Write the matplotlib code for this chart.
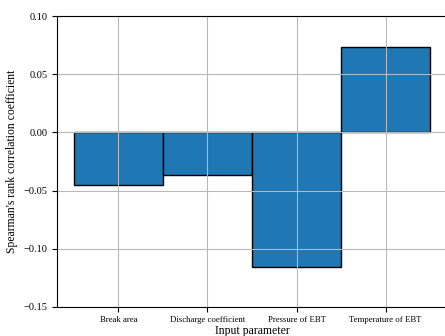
import numpy as np
import matplotlib
matplotlib.use("Agg")
from matplotlib import pyplot as plt

params = ["Break area", "Discharge coefficient", "Pressure of EBT", "Temperature of EBT"]
rho = [-0.045, -0.037, -0.116, 0.073]
yticks = [-0.15, -0.10, -0.05, 0.00, 0.05, 0.10]

plt.rcParams['font.family'] = ['Liberation Serif', 'DejaVu Serif']

fig = plt.figure(figsize=(4.45, 3.36), dpi=100)
ax = fig.add_axes([57/445, 29/336, 390/445, 291/336])

x = np.arange(len(params))
ax.bar(x, rho, width=1.0, color='#1f77b4', edgecolor='black', linewidth=1.0)
ax.set_axisbelow(False)
ax.grid(True, color='#b8b8b8', linewidth=0.8)

ax.set_xlim(-0.69, 3.69)
ax.set_ylim(-0.15, 0.10)
ax.set_yticks(yticks)
ax.set_yticklabels([f"{v:.2f}".replace("-", "\u2212") for v in yticks], fontsize=7.5)
ax.set_xticks(x)
ax.set_xticklabels(params, fontsize=6.3)
ax.set_xlabel("Input parameter", fontsize=8.5, labelpad=1)
ax.set_ylabel("Spearman's rank correlation coefficient", fontsize=8.4)
ax.tick_params(axis='x', pad=3)
ax.spines['right'].set_visible(False)
for s in ax.spines.values():
    s.set_zorder(5)

fig.savefig("out.png", dpi=100)
